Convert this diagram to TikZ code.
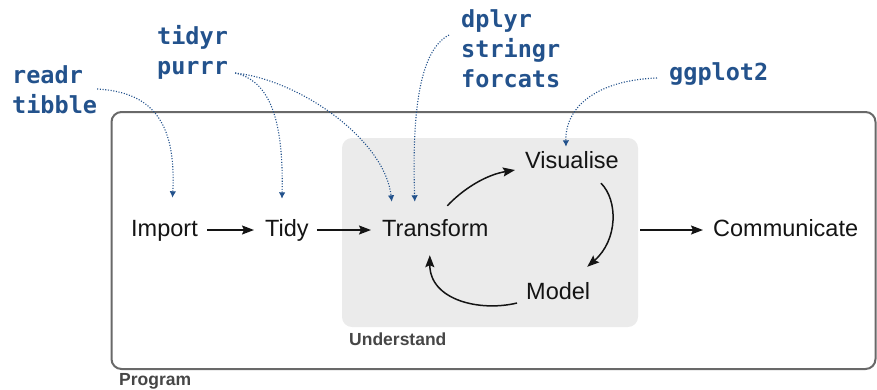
\documentclass[tikz,border=0pt]{standalone}
\usepackage{fontspec}
\setmainfont{Liberation Sans}
\newfontfamily\monof{DejaVu Sans Mono}
\usetikzlibrary{arrows.meta}
\definecolor{pkgblue}{RGB}{35,82,140}
\definecolor{uboxfill}{RGB}{235,235,235}
\definecolor{framegray}{RGB}{105,105,105}
\definecolor{labgray}{RGB}{70,70,70}
\definecolor{ink}{RGB}{20,20,20}
\tikzset{
  stage/.style={anchor=base west, inner sep=0pt, text height=17pt, text depth=5pt,
    font=\fontsize{23.5}{28}\selectfont, text=ink},
  pkg/.style={anchor=base west, inner sep=0pt, font=\monof\bfseries\fontsize{23.5}{30}\selectfont, text=pkgblue},
  grouplab/.style={anchor=base west, inner sep=0pt, font=\bfseries\fontsize{17.5}{20}\selectfont, text=labgray},
  flow/.style={draw=ink, line width=1.5pt, -{Stealth[length=12pt,width=9pt,inset=2pt]}},
  uses/.style={draw=pkgblue, line width=1.1pt, dash pattern=on 1.1pt off 1.6pt,
    -{Latex[length=6.5pt,width=6.5pt]}},
  progbox/.style={draw=framegray, line width=2pt, rounded corners=10pt, inner sep=0pt},
  underbox/.style={fill=uboxfill, rounded corners=10pt, inner sep=0pt}
}
\begin{document}
\begin{tikzpicture}[x=1pt,y=-1pt]
\useasboundingbox (0,0) rectangle (877,389);
% frames
\node[progbox, minimum width=764pt, minimum height=257pt] (program) at (493.5,240.5) {};
\node[underbox, minimum width=296pt, minimum height=189pt] (ubox) at (490,232.5) {};
\node[grouplab] (understandlab) at (349,345) {Understand};
\node[grouplab] (programlab) at (119,385) {Program};
% stages
\node[stage] (import) at (131,236) {Import};
\node[stage] (tidy) at (265,236) {Tidy};
\node[stage] (transform) at (382,236) {Transform};
\node[stage] (visualise) at (525,168) {Visualise};
\node[stage] (model) at (526,299) {Model};
\node[stage] (comm) at (713,236) {Communicate};
% packages
\node[pkg] (readr) at (12,83) {readr};
\node[pkg] (tibble) at (12,113) {tibble};
\node[pkg] (tidyr) at (157,44) {tidyr};
\node[pkg] (purrr) at (157,74) {purrr};
\node[pkg] (dplyr) at (461,27) {dplyr};
\node[pkg] (stringr) at (461,57) {stringr};
\node[pkg] (forcats) at (461,87) {forcats};
\node[pkg] (ggplot) at (669,80) {ggplot2};
% main flow
\draw[flow, shorten <=9pt, shorten >=11pt] (import) -- (tidy);
\draw[flow, shorten <=8pt, shorten >=11pt] (tidy) -- (transform);
\draw[flow, shorten <=2pt, shorten >=10pt] (ubox.east |- comm.west) -- (comm.west);
% cycle
\draw[flow] ([xshift=12pt,yshift=13pt]transform.north) .. controls +(15,-16) and +(-30,5) .. ([xshift=-10pt,yshift=-8pt]visualise.west);
\draw[flow] ([xshift=29pt,yshift=-10pt]visualise.south) .. controls +(17,17) and +(31,-27) .. ([xshift=29pt,yshift=15pt]model.north);
\draw[flow] ([xshift=-9pt,yshift=-10pt]model.west) .. controls +(-37,9) and +(0,45) .. ([xshift=-5.5pt,yshift=-14pt]transform.south);
% package links
\draw[uses] ([xshift=14pt,yshift=-6pt]readr.base east) .. controls +(53,3) and +(4,-78) .. ([xshift=8pt,yshift=21pt]import.north);
\draw[uses] ([xshift=7pt,yshift=1pt]purrr.base east) .. controls +(30,7) and +(2,-89) .. ([xshift=-5pt,yshift=20pt]tidy.north);
\draw[uses] ([xshift=7pt,yshift=1pt]purrr.base east) .. controls +(65,7) and +(-7,-62) .. ([xshift=-43.5pt,yshift=17pt]transform.north);
\draw[uses] ([xshift=-12pt,yshift=-8pt]dplyr.base west) .. controls +(-29,15) and +(-3,-92) .. ([xshift=-20.5pt,yshift=17pt]transform.north);
\draw[uses] ([xshift=-12pt,yshift=2pt]ggplot.base west) .. controls +(-57,2) and +(-1,-42) .. ([xshift=-6pt,yshift=4pt]visualise.north);
\end{tikzpicture}
\end{document}
